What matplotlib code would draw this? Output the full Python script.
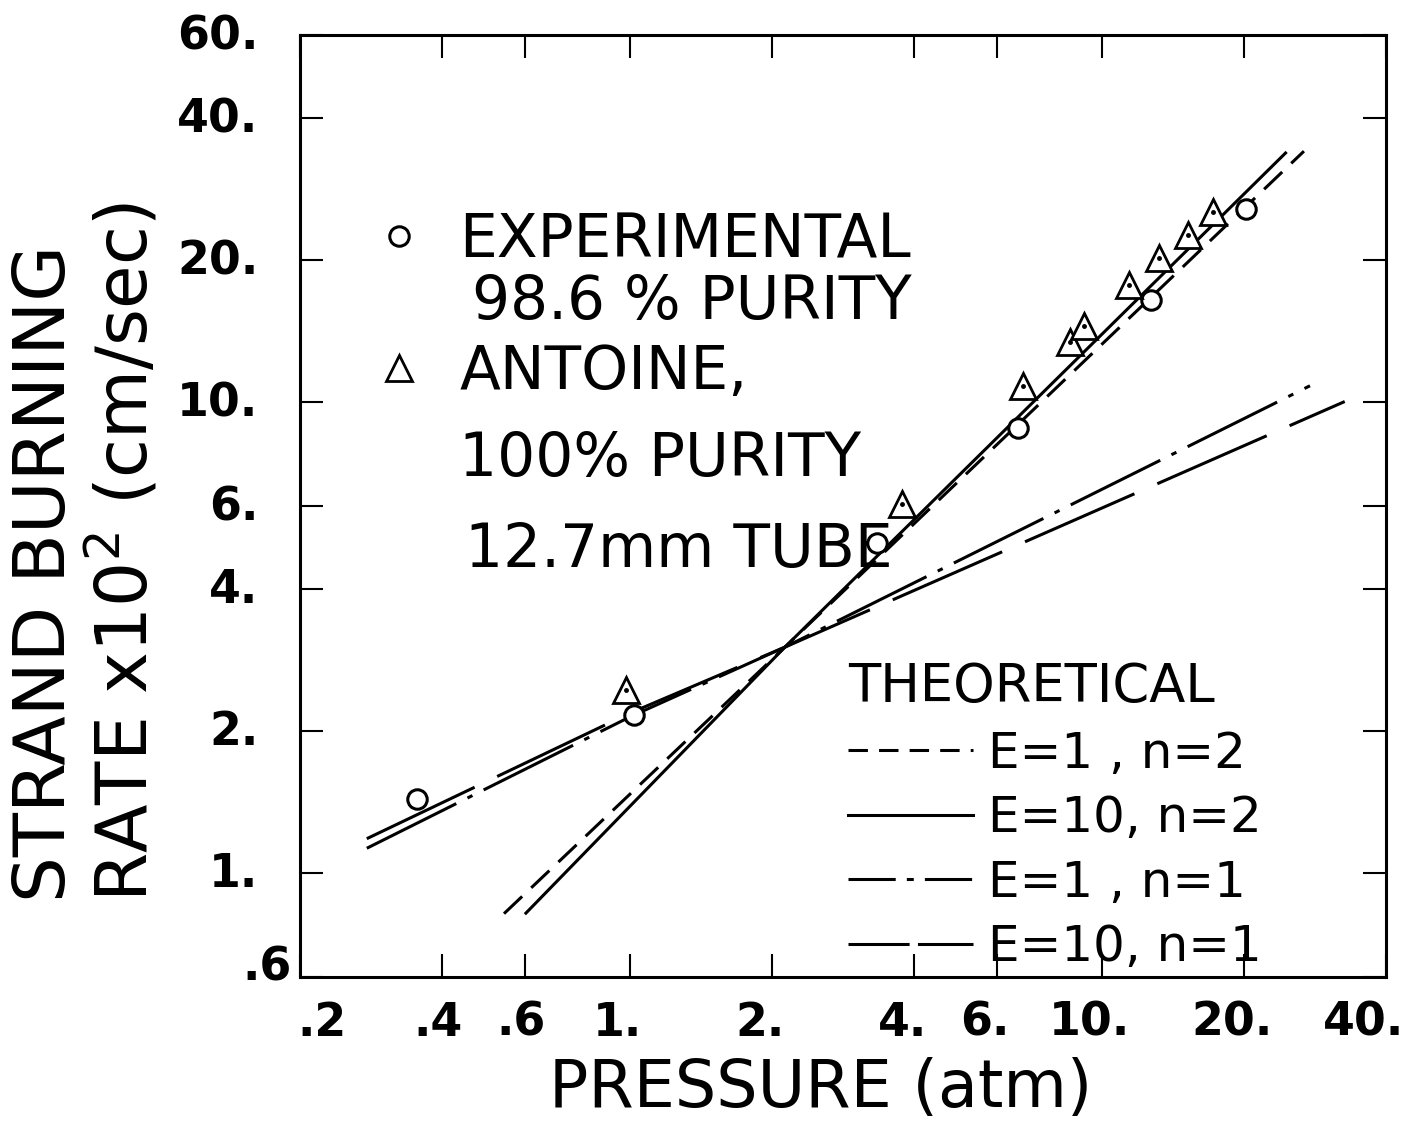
import numpy as np
import matplotlib
matplotlib.use("Agg")
import matplotlib.pyplot as plt
from matplotlib.lines import Line2D
from matplotlib.transforms import ScaledTranslation

plt.rcParams["font.family"] = ["DejaVu Sans"]
plt.rcParams["lines.scale_dashes"] = False
plt.rcParams["mathtext.fontset"] = "dejavusans"

# ---- data ----
# experimental, 98.6 % purity (circles)
exp_p = [0.354, 1.02, 3.33, 6.63, 12.7, 20.2]
exp_r = [1.43, 2.16, 5.0, 8.8, 16.4, 25.6]

# Antoine, 100 % purity, 12.7 mm tube (triangles)
ant_p = [0.98, 3.77, 6.81, 8.58, 9.15, 11.4, 13.2, 15.2, 17.2]
ant_r = [2.44, 6.05, 10.8, 13.4, 14.5, 17.7, 20.2, 22.6, 25.3]

# theoretical curves
e1n2_p = [0.541, 2.13, 26.8]
e1n2_r = [0.818, 3.01, 34.0]
e10n2_p = [0.602, 2.13, 24.5]
e10n2_r = [0.820, 3.01, 33.7]
e1n1_p = [0.277, 1.0, 2.13, 27.6]
e1n1_r = [1.126, 2.14, 3.01, 10.8]
e10n1_p = [0.277, 1.0, 2.13, 32.7]
e10n1_r = [1.18, 2.18, 3.01, 10.0]

x_ticks = [0.2, 0.4, 0.6, 1, 2, 4, 6, 10, 20, 40]
x_labels = [".2", ".4", ".6", "1.", "2.", "4.", "6.", "10.", "20.", "40."]
y_ticks = [0.6, 1, 2, 4, 6, 10, 20, 40, 60]
y_labels = [".6", "1.", "2.", "4.", "6.", "10.", "20.", "40.", "60."]

fig = plt.figure(figsize=(14.1, 11.29), dpi=100)
ax = fig.add_axes([0.2128, 0.1346, 0.7702, 0.8344])
ax.set_xscale("log")
ax.set_yscale("log")

LW = 2.2
ax.plot(e1n2_p, e1n2_r, color="black", lw=LW, dashes=(18, 9))
ax.plot(e10n2_p, e10n2_r, color="black", lw=LW)
ax.plot(e1n1_p, e1n1_r, color="black", lw=LW, dashes=(72, 9, 4, 9))
ax.plot(e10n1_p, e10n1_r, color="black", lw=LW, dashes=(86, 18))

ax.plot(exp_p, exp_r, ls="none", marker="o", ms=14, mfc="white",
        mec="black", mew=2.2, zorder=5)
ax.plot(ant_p, ant_r, ls="none", marker="^", ms=19, mfc="white",
        mec="black", mew=2.0, zorder=5)
ax.plot(ant_p, ant_r, ls="none", marker=".", ms=5, color="black", zorder=6)

ax.set_xlim(0.2, 40)
ax.set_ylim(0.6, 60)
ax.minorticks_off()
ax.set_xticks(x_ticks, x_labels)
ax.set_yticks(y_ticks, y_labels)
ax.tick_params(which="major", direction="in", length=16.5, width=1.5,
               top=True, right=True, labelsize=33, pad=17)
ax.tick_params(axis="y", pad=30)
for lab in ax.get_xticklabels() + ax.get_yticklabels():
    lab.set_fontweight("bold")
for s in ax.spines.values():
    s.set_linewidth(2.2)

# shift tick labels the way they were lettered
px = 0.72
for lab in ax.get_xticklabels():
    t = lab.get_text()
    if t == "40.":
        dx = -22
    elif t.endswith("."):
        dx = -12
    else:
        dx = 22 if t == ".2" else -4
    lab.set_transform(lab.get_transform() + ScaledTranslation(dx * px / 72, 0, fig.dpi_scale_trans))
for lab in ax.get_yticklabels():
    t = lab.get_text()
    dx, dy = (33, 14) if t == ".6" else (0, 3)
    lab.set_transform(lab.get_transform() + ScaledTranslation(dx * px / 72, dy * px / 72, fig.dpi_scale_trans))

ax.set_xlabel("PRESSURE (atm)", fontsize=47)
ax.xaxis.set_label_coords(0.479, -0.085)

fig.text(46 / 1410, 1 - 902 / 1129, "STRAND BURNING", rotation=90,
         fontsize=52, ha="center", va="bottom")
fig.text(124 / 1410, 1 - 902 / 1129, "RATE x10$^{2}$ (cm/sec)", rotation=90,
         fontsize=51, ha="center", va="bottom")

# symbol key
h_exp = Line2D([], [], ls="none", marker="o", ms=14, mfc="white", mec="black", mew=2.2)
h_ant = Line2D([], [], ls="none", marker="^", ms=19, mfc="white", mec="black", mew=2.0)
leg1 = ax.legend([h_exp, h_ant], ["EXPERIMENTAL", "ANTOINE,"], loc="upper left",
                 bbox_to_anchor=(0.064, 0.813), frameon=False, fontsize=43,
                 handlelength=1.0, handletextpad=0.5, labelspacing=1.22,
                 borderpad=0, borderaxespad=0)
ax.add_artist(leg1)
ax.text(0.158, 0.716, "98.6 % PURITY", transform=ax.transAxes, fontsize=43, va="center")
ax.text(0.146, 0.549, "100% PURITY", transform=ax.transAxes, fontsize=43, va="center")
ax.text(0.152, 0.453, "12.7mm TUBE", transform=ax.transAxes, fontsize=43, va="center")

# theoretical key
th = [Line2D([], [], color="black", lw=LW, dashes=(14, 8)),
      Line2D([], [], color="black", lw=LW),
      Line2D([], [], color="black", lw=LW, dashes=(34, 8, 5, 8)),
      Line2D([], [], color="black", lw=LW, dashes=(44, 6))]
leg2 = ax.legend(th, ["E=1 , n=2", "E=10, n=2", "E=1 , n=1", "E=10, n=1"],
                 title="THEORETICAL", title_fontsize=38, fontsize=36,
                 loc="upper left", bbox_to_anchor=(0.505, 0.335), frameon=False,
                 handlelength=2.5, handletextpad=0.3, labelspacing=0.33,
                 borderpad=0, borderaxespad=0, alignment="left")

fig.savefig("out.png", dpi=100)
